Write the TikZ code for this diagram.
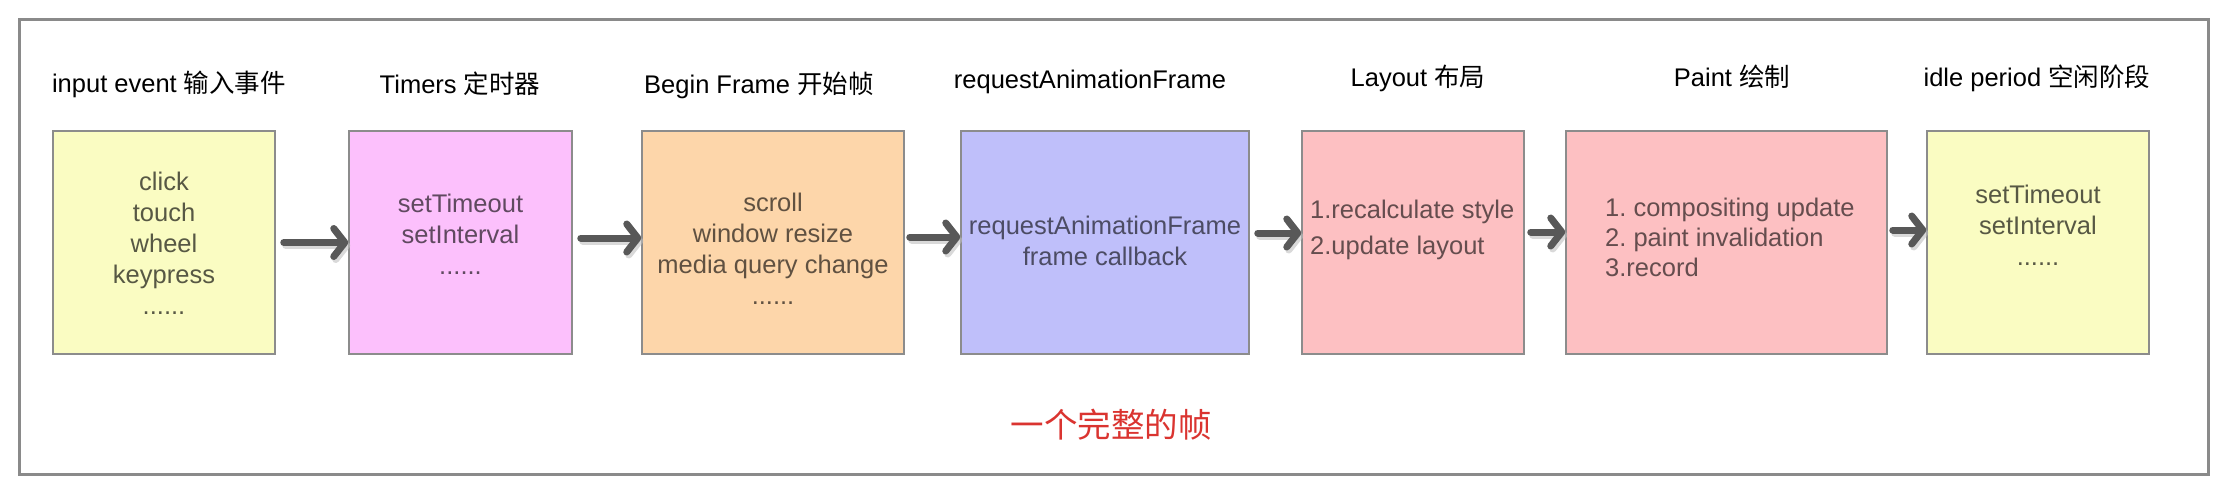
\documentclass[tikz,border=0pt]{standalone}
\usepackage{fontspec}
\setmainfont{Liberation Sans}
\newfontfamily\cjk{Noto Sans CJK SC}
\usetikzlibrary{arrows.meta}
\definecolor{yfill}{RGB}{250,252,194}
\definecolor{pfill}{RGB}{252,192,252}
\definecolor{ofill}{RGB}{253,214,170}
\definecolor{bfill}{RGB}{191,191,250}
\definecolor{rfill}{RGB}{253,192,194}
\definecolor{boxline}{RGB}{140,140,140}
\definecolor{framegray}{RGB}{138,138,138}
\definecolor{arrowgray}{RGB}{88,88,88}
\definecolor{redtxt}{RGB}{218,52,48}
\frenchspacing
\begin{document}
\begin{tikzpicture}[x=1pt,y=-1pt,
  box/.style={draw=boxline, line width=1.5pt, minimum height=223pt, inner sep=0pt},
  ttl/.style={anchor=base, inner sep=0pt, font=\fontsize{25.5}{30}\selectfont},
  btxt/.style={inner sep=0pt, align=center, font=\fontsize{25.5}{31}\selectfont},
  arr/.style={line width=7pt, draw=arrowgray, line cap=round,
    -{Straight Barb[length=11pt,width=28pt,round]}},
  arrsh/.style={line width=7pt, draw=black!25, line cap=round, opacity=0.6,
    transform canvas={shift={(2pt,-3pt)}},
    -{Straight Barb[length=11pt,width=28pt,round]}},
]
\useasboundingbox (0,0) rectangle (2231,501);
\draw[draw=framegray, line width=3pt] (19,19) rectangle (2208,474);

% boxes
\node[box, fill=yfill, minimum width=222pt] (b1) at (164,242.5) {};
\node[box, fill=pfill, minimum width=223pt] (b2) at (460.5,242.5) {};
\node[box, fill=ofill, minimum width=262pt] (b3) at (773,242.5) {};
\node[box, fill=bfill, minimum width=288pt] (b4) at (1105,242.5) {};
\node[box, fill=rfill, minimum width=222pt] (b5) at (1413,242.5) {};
\node[box, fill=rfill, minimum width=321pt] (b6) at (1726.5,242.5) {};
\node[box, fill=yfill, minimum width=222pt] (b7) at (2038,242.5) {};

% titles
\node[ttl] (h1) at (169,92) {input event {\cjk 输入事件}};
\node[ttl] (h2) at (460,93) {Timers {\cjk 定时器}};
\node[ttl] (h3) at (759,93) {Begin Frame {\cjk 开始帧}};
\node[ttl] (h4) at (1090,88) {requestAnimationFrame};
\node[ttl] (h5) at (1418,86) {Layout {\cjk 布局}};
\node[ttl] (h6) at (1732,86) {Paint {\cjk 绘制}};
\node[ttl] (h7) at (2037,86) {idle period {\cjk 空闲阶段}};

% box texts
\node[btxt, text=black!65!yfill] (t1) at (164,243) {click\\touch\\wheel\\keypress\\......};
\node[btxt, text=black!62!pfill] (t2) at (460.5,234) {setTimeout\\setInterval\\......};
\node[btxt, text=black!62!ofill] (t3) at (773,248.5) {scroll\\window resize\\media query change\\......};
\node[btxt, text=black!60!bfill] (t4) at (1105,241) {requestAnimationFrame\\frame callback};
\node[btxt, align=left, anchor=west, text=black!60!rfill, font=\fontsize{25.5}{36}\selectfont] (t5) at (1310,229.5) {1.recalculate style\\2.update layout};
\node[btxt, align=left, anchor=west, text=black!60!rfill, font=\fontsize{25.5}{30}\selectfont] (t6) at (1605,237) {1. compositing update\\2. paint invalidation\\3.record};
\node[btxt, text=black!65!yfill] (t7) at (2038,225) {setTimeout\\setInterval\\......};

% caption
\node[inner sep=0pt, text=redtxt, font=\cjk\fontsize{33.5}{33.5}\selectfont] (cap) at (1111,425) {一个完整的帧};

% arrow shadows
\draw[arrsh] ([xshift=8pt]b1.east) -- (b2.west);
\draw[arrsh] ([xshift=8pt,yshift=4.5pt]b2.east) -- ([yshift=4.5pt]b3.west);
\draw[arrsh] ([xshift=5pt,yshift=5.5pt]b3.east) -- ([yshift=5.5pt]b4.west);
\draw[arrsh] ([xshift=8pt,yshift=9.5pt]b4.east) -- ([yshift=9.5pt]b5.west);
\draw[arrsh] ([xshift=6pt,yshift=10.5pt]b5.east) -- ([yshift=10.5pt]b6.west);
\draw[arrsh] ([xshift=5pt,yshift=12.5pt]b6.east) -- ([yshift=12.5pt]b7.west);
% arrows
\draw[arr] ([xshift=8pt]b1.east) -- (b2.west);
\draw[arr] ([xshift=8pt,yshift=4.5pt]b2.east) -- ([yshift=4.5pt]b3.west);
\draw[arr] ([xshift=5pt,yshift=5.5pt]b3.east) -- ([yshift=5.5pt]b4.west);
\draw[arr] ([xshift=8pt,yshift=9.5pt]b4.east) -- ([yshift=9.5pt]b5.west);
\draw[arr] ([xshift=6pt,yshift=10.5pt]b5.east) -- ([yshift=10.5pt]b6.west);
\draw[arr] ([xshift=5pt,yshift=12.5pt]b6.east) -- ([yshift=12.5pt]b7.west);
\end{tikzpicture}
\end{document}
